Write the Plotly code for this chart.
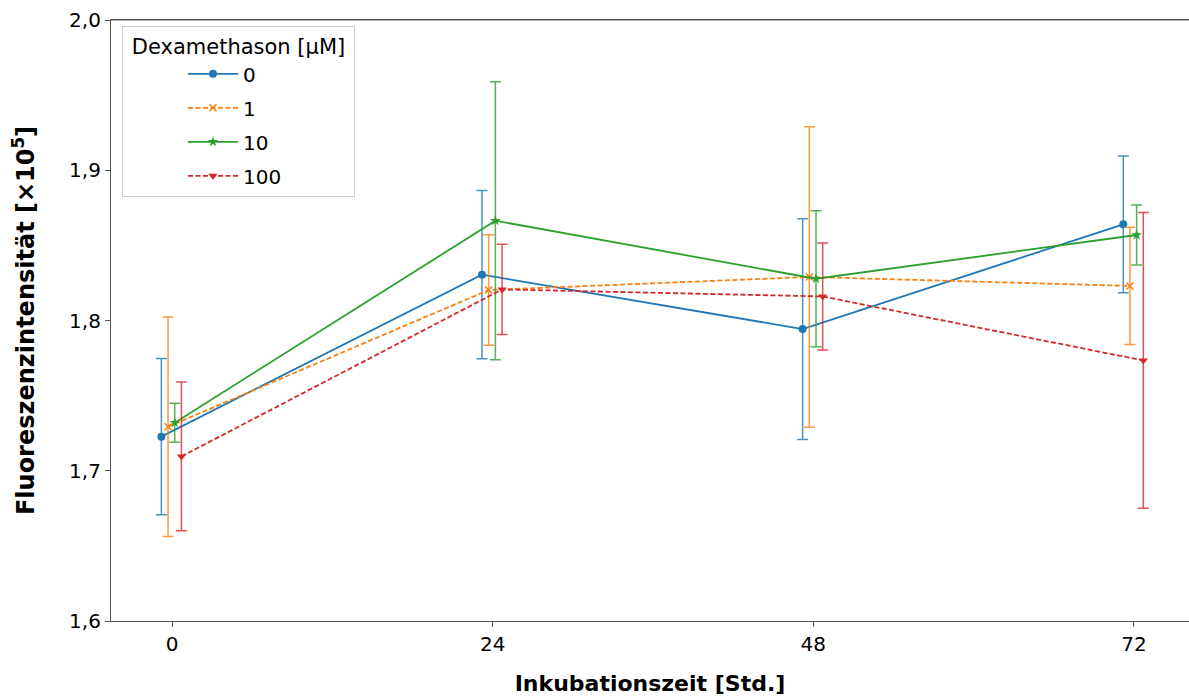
import plotly.graph_objects as go

# Incubation times (hours) and dexamethasone concentrations
times = [0, 24, 48, 72]
concentrations = ["0", "1", "10", "100"]

# Mean fluorescence intensity (x10^5) per concentration
mean_0 = [1.7227, 1.8305, 1.7943, 1.8640]
mean_1 = [1.7293, 1.8203, 1.8290, 1.8230]
mean_10 = [1.7320, 1.8664, 1.8278, 1.8569]
mean_100 = [1.7095, 1.8207, 1.8160, 1.7734]

# Standard deviations
sd_0 = [0.0520, 0.0560, 0.0735, 0.0455]
sd_1 = [0.0730, 0.0368, 0.1000, 0.0390]
sd_10 = [0.0130, 0.0925, 0.0452, 0.0200]
sd_100 = [0.0495, 0.0300, 0.0356, 0.0984]

means = [mean_0, mean_1, mean_10, mean_100]
sds = [sd_0, sd_1, sd_10, sd_100]

# Styling per series
colors = ["#1f77b4", "#ff7f0e", "#2ca02c", "#d62728"]
bar_colors = ["rgba(31,119,180,0.8)", "rgba(255,127,14,0.8)",
              "rgba(44,160,44,0.8)", "rgba(214,39,40,0.8)"]
symbols = ["circle", "x-thin", "star", "triangle-down"]
sizes = [8, 7, 8, 8]
dashes = ["solid", "5px,2.5px", "solid", "5px,2.5px"]
offsets = [-0.8, -0.3, 0.2, 0.7]  # horizontal dodge so error bars don't overlap

fig = go.Figure()
for conc, m, s, c, bc, sym, sz, d, off in zip(concentrations, means, sds, colors,
                                              bar_colors, symbols, sizes, dashes, offsets):
    fig.add_trace(go.Scatter(
        x=[t + off for t in times],
        y=m,
        name=conc,
        legendgroup=conc,
        mode="lines+markers",
        line=dict(color=c, width=1.8, dash=d),
        marker=dict(symbol=sym, size=sz, color=c,
                    line=dict(color=c, width=1.5 if sym == "x-thin" else 0)),
        error_y=dict(type="data", array=s, visible=True,
                     color=bc, thickness=1.5, width=5.5),
    ))

axis_font = dict(family="DejaVu Sans", size=20, color="#000000")

fig.update_layout(
    width=1189,
    height=696,
    margin=dict(l=111, r=0, t=20, b=75),
    paper_bgcolor="white",
    plot_bgcolor="white",
    separators=", ",
    font=dict(family="DejaVu Sans", size=20, color="#000000"),
    showlegend=True,
    legend=dict(
        x=0.0102, y=0.99, xanchor="left", yanchor="top",
        bgcolor="rgba(255,255,255,0.85)",
        bordercolor="#cccccc", borderwidth=1,
        font=dict(family="DejaVu Sans", size=20, color="#000000"),
        title=dict(text="\u00a0Dexamethason [µM]\u00a0", side="top center",
                   font=dict(family="DejaVu Sans", size=21, color="#000000")),
        indentation=60,
        itemwidth=50,
        tracegroupgap=5,
    ),
    xaxis=dict(
        range=[-4.57, 76.12],
        tickmode="array",
        tickvals=times,
        ticktext=[str(t) for t in times],
        ticks="outside", ticklen=5, tickwidth=1, tickcolor="#555555",
        showline=True, linecolor="#555555", linewidth=1.2, mirror=True,
        showgrid=False, zeroline=False,
        tickfont=axis_font,
        automargin=False,
        title=dict(text="Inkubationszeit [Std.]", standoff=24,
                   font=dict(family="DejaVu Sans", size=22, weight="bold",
                             color="#000000")),
    ),
    yaxis=dict(
        range=[1.6, 2.0],
        tickmode="array",
        tickvals=[1.6, 1.7, 1.8, 1.9, 2.0],
        tickformat=".1f",
        ticks="outside", ticklen=5, tickwidth=1, tickcolor="#555555",
        showline=True, linecolor="#555555", linewidth=1.2, mirror=False,
        showgrid=False, zeroline=False,
        tickfont=axis_font,
        automargin=False,
        title=dict(text="Fluoreszenzintensität [×10<sup>5</sup>]", standoff=27,
                   font=dict(family="DejaVu Sans", size=24, weight="bold",
                             color="#000000")),
    ),
)

# top border line of the plotting area
fig.add_shape(type="line", xref="paper", yref="paper", x0=0, x1=1, y0=1, y1=1,
              line=dict(color="#555555", width=1.2))

fig.write_html("out.html")
